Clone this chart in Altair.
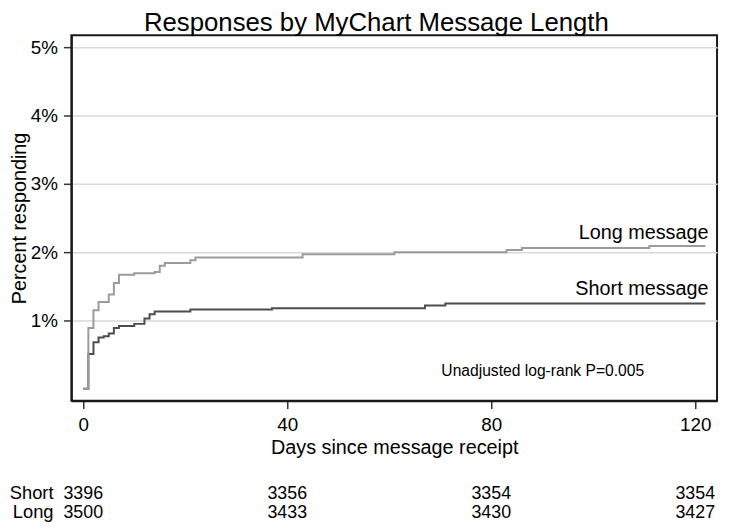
import altair as alt
import pandas as pd

# ---- text ----
chart_title = "Responses by MyChart Message Length"
x_title = "Days since message receipt"
y_title = "Percent responding"
annotation_text = "Unadjusted log-rank P=0.005"

# ---- axes ----
x_ticks = [0, 40, 80, 120]
y_ticks = [1, 2, 3, 4, 5]

# ---- Kaplan-Meier style cumulative response curves (percent) ----
long_days = [0, 1, 2, 3, 5, 6, 7, 10, 14, 15, 16, 21, 22, 43, 61, 83, 86, 111, 122]
long_pct = [0, 0.89, 1.15, 1.27, 1.38, 1.55, 1.67, 1.69, 1.71, 1.80, 1.84, 1.88, 1.92,
            1.97, 2.00, 2.03, 2.06, 2.09, 2.09]
short_days = [0, 1, 2, 3, 4, 5, 6, 7, 10, 12, 13, 14, 21, 37, 67, 71, 122]
short_pct = [0, 0.51, 0.68, 0.75, 0.77, 0.81, 0.89, 0.92, 0.95, 1.03, 1.09, 1.13, 1.16,
             1.18, 1.22, 1.25, 1.25]

series_names = ["Long message", "Short message"]

# ---- number at risk ----
risk_days = [0, 40, 80, 120]
risk_short = [3396, 3356, 3354, 3354]
risk_long = [3500, 3433, 3430, 3427]
risk_groups = ["Short", "Long"]

FONT = "Liberation Sans"
W, H = 652, 369
x_scale = alt.Scale(domain=[-2.33, 124.27], nice=False, zero=False)
y_scale = alt.Scale(domain=[-0.174, 5.174], nice=False, zero=False)

long_df = pd.DataFrame({"day": long_days, "pct": long_pct})
short_df = pd.DataFrame({"day": short_days, "pct": short_pct})

x_enc = alt.X("day:Q", scale=x_scale, axis=alt.Axis(
    values=x_ticks, grid=False, title=x_title, titleFontSize=20, titleFont=FONT,
    titleFontWeight="normal", titleColor="#000", titleY=53, titleBaseline="alphabetic",
    labelFontSize=19, labelFont=FONT, labelColor="#000", labelPadding=7,
    tickSize=8, tickColor="#333", tickWidth=1.5,
    domainColor="#1a1a1a", domainWidth=2, labelFlush=False))
y_enc = alt.Y("pct:Q", scale=y_scale, axis=alt.Axis(
    values=y_ticks, grid=True, gridColor="#d9d9d9", gridWidth=1.5,
    labelExpr="datum.value + '%'", title=y_title, titleFontSize=20, titleFont=FONT,
    titleFontWeight="normal", titleColor="#000", titleAngle=270, titleX=-46.5,
    titleY=H / 2, titleBaseline="alphabetic", titleAlign="center",
    labelFontSize=19, labelFont=FONT, labelColor="#000", labelPadding=6,
    tickSize=8, tickColor="#333", tickWidth=1.5,
    domainColor="#1a1a1a", domainWidth=2, labelFlush=False))

short_line = alt.Chart(short_df).mark_line(
    interpolate="step-after", color="#4d4d4d", strokeWidth=2).encode(x=x_enc, y=y_enc)
long_line = alt.Chart(long_df).mark_line(
    interpolate="step-after", color="#9b9b9b", strokeWidth=2).encode(x="day:Q", y="pct:Q")

label_df = pd.DataFrame({"label": series_names, "day": [122.6, 122.6], "pct": [2.19, 1.37]})
series_labels = alt.Chart(label_df).mark_text(
    align="right", baseline="alphabetic", fontSize=20, font=FONT, color="#000"
).encode(x="day:Q", y="pct:Q", text="label:N")

annot = alt.Chart(pd.DataFrame({"t": [annotation_text]})).mark_text(
    align="center", baseline="alphabetic", fontSize=15.8, font=FONT, color="#000"
).encode(x=alt.value(476), y=alt.value(344), text="t:N")

title_mark = alt.Chart(pd.DataFrame({"t": [chart_title]})).mark_text(
    align="center", baseline="alphabetic", fontSize=26, font=FONT, color="#000"
).encode(x=alt.value(308), y=alt.value(-4.5), text="t:N")

risk_s = alt.Chart(pd.DataFrame({"day": risk_days, "n": risk_short})).mark_text(
    align="center", baseline="alphabetic", fontSize=18, font=FONT, color="#000"
).encode(x="day:Q", y=alt.value(468), text="n:Q")
risk_l = alt.Chart(pd.DataFrame({"day": risk_days, "n": risk_long})).mark_text(
    align="center", baseline="alphabetic", fontSize=18, font=FONT, color="#000"
).encode(x="day:Q", y=alt.value(487.5), text="n:Q")

grp_df = pd.DataFrame({"g": risk_groups, "yy": [468, 487.5]})
risk_names = alt.Chart(grp_df).mark_text(
    align="right", baseline="alphabetic", fontSize=18.5, font=FONT, color="#000"
).encode(x=alt.value(-18), y=alt.Y("yy:Q", scale=None), text="g:N")

chart = alt.layer(
    short_line, long_line, series_labels, annot, title_mark, risk_s, risk_l, risk_names
).properties(
    width=W, height=H,
    padding={"left": 64, "top": 25, "right": 4, "bottom": 123},
    autosize=alt.AutoSizeParams(type="none"),
).configure(font=FONT).configure_view(stroke="#1a1a1a", strokeWidth=2)

chart.save("out.html", embed_options={"renderer": "svg", "actions": False})
